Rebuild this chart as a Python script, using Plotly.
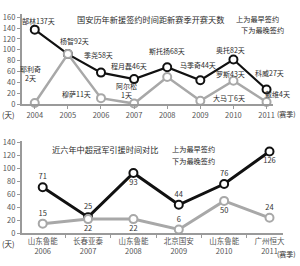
import plotly.graph_objects as go

# ---- top chart data ----
years_top = [2004, 2005, 2006, 2007, 2008, 2009, 2010, 2011]
earliest_top = [137, 92, 58, 46, 68, 44, 82, 27]
latest_top = [2, 92, 11, 1, 50, 6, 43, 4]
earliest_names = ["郜林137天", "杨智92天", "季尧58天", "程月磊46天", "斯托扬68天", "马季奇44天", "奥托82天", "科威27天"]
latest_names = ["耶利奇<br>2天", None, "穆萨11天", "阿尔松<br>1天", None, "大马丁6天", "罗斯43天", "戴维4天"]
title_top = "国安历年新援签约时间距新赛季开赛天数"

# ---- bottom chart data ----
teams = ["山东鲁能", "长春亚泰", "山东鲁能", "北京国安", "山东鲁能", "广州恒大"]
seasons = ["2006", "2007", "2008", "2009", "2010", "2011"]
earliest_bot = [71, 25, 93, 44, 76, 126]
latest_bot = [15, 22, 22, 6, 50, 24]
title_bot = "近六年中超冠军引援时间对比"
legend_lines = ["上为最早签约", "下为最晚签约"]

# ---- styles ----
BLACK = "#111111"
GRAY = "#a8a8a8"
AXIS = "#9a9a9a"
TICKC = "#555555"
TXT = "#2a2a2a"
FONT = "Noto Sans CJK SC"
W, H = 300, 266

# label offsets (pixels) for top chart annotations
early_off = [(4, 9), (7, 13), (-2, 18), (-5, 13), (0, 16), (-2, 15), (-3, 10), (3, 16)]
late_off = [(-4, 30), None, (-24, 4), (-8, 13), None, (29, 3), (-3, 7), (11, 8)]
bot_early_pos = ["top center", "top center", "bottom center", "top center", "top center", "bottom center"]
bot_late_pos = ["top center", "bottom center", "bottom center", "top center", "bottom center", "top center"]

def py(p):
    return 1 - p / H

fig = go.Figure()

# top traces
fig.add_trace(go.Scatter(x=years_top, y=earliest_top, mode="lines+markers",
                         line=dict(color=BLACK, width=2.2),
                         marker=dict(symbol="circle", size=8, color="white",
                                     line=dict(color=BLACK, width=2)),
                         xaxis="x", yaxis="y", showlegend=False, cliponaxis=False))
fig.add_trace(go.Scatter(x=years_top, y=latest_top, mode="lines+markers",
                         line=dict(color=GRAY, width=2.5),
                         marker=dict(symbol="circle", size=8, color="white",
                                     line=dict(color=GRAY, width=2)),
                         xaxis="x", yaxis="y", showlegend=False, cliponaxis=False))

# bottom traces
cats = [f"{t}<br>{s}" for t, s in zip(teams, seasons)]
fig.add_trace(go.Scatter(x=cats, y=earliest_bot, mode="lines+markers+text",
                         text=[str(v) for v in earliest_bot], textposition=bot_early_pos,
                         textfont=dict(size=7.5, color="#333"),
                         line=dict(color=BLACK, width=3),
                         marker=dict(symbol="circle", size=8, color="white",
                                     line=dict(color=BLACK, width=2)),
                         xaxis="x2", yaxis="y2", showlegend=False, cliponaxis=False))
fig.add_trace(go.Scatter(x=cats, y=latest_bot, mode="lines+markers+text",
                         text=[str(v) for v in latest_bot], textposition=bot_late_pos,
                         textfont=dict(size=7.5, color="#333"),
                         line=dict(color=GRAY, width=3),
                         marker=dict(symbol="circle", size=8, color="white",
                                     line=dict(color=GRAY, width=2)),
                         xaxis="x2", yaxis="y2", showlegend=False, cliponaxis=False))

annotations = []
for x, y, t, (dx, dy) in zip(years_top, earliest_top, earliest_names, early_off):
    annotations.append(dict(x=x, y=y, xref="x", yref="y", text=t, showarrow=False,
                            xshift=dx, yshift=dy, font=dict(size=7, color=TXT)))
for x, y, t, off in zip(years_top, latest_top, latest_names, late_off):
    if t is None:
        continue
    annotations.append(dict(x=x, y=y, xref="x", yref="y", text=t, showarrow=False,
                            xshift=off[0], yshift=off[1], font=dict(size=7, color=TXT)))

# titles and legends
annotations += [
    dict(x=75 / W, y=py(15), xref="paper", yref="paper", xanchor="left", yanchor="middle",
         text=title_top, showarrow=False, font=dict(size=8.2, color=TXT)),
    dict(x=236 / W, y=py(15), xref="paper", yref="paper", xanchor="left", yanchor="middle",
         text=legend_lines[0], showarrow=False, font=dict(size=7.2, color=TXT)),
    dict(x=241 / W, y=py(26), xref="paper", yref="paper", xanchor="left", yanchor="middle",
         text=legend_lines[1], showarrow=False, font=dict(size=7.2, color=TXT)),
    dict(x=50 / W, y=py(150), xref="paper", yref="paper", xanchor="left", yanchor="middle",
         text=title_bot, showarrow=False, font=dict(size=8.2, color=TXT)),
    dict(x=171 / W, y=py(150), xref="paper", yref="paper", xanchor="left", yanchor="middle",
         text=legend_lines[0], showarrow=False, font=dict(size=7.2, color=TXT)),
    dict(x=171 / W, y=py(162), xref="paper", yref="paper", xanchor="left", yanchor="middle",
         text=legend_lines[1], showarrow=False, font=dict(size=7.2, color=TXT)),
    dict(x=0, y=py(114), xref="paper", yref="paper", xanchor="left", yanchor="middle",
         text="(天)", showarrow=False, font=dict(size=7.5, color=TXT)),
    dict(x=1, y=py(113), xref="paper", yref="paper", xanchor="right", yanchor="middle",
         text="(赛季)", showarrow=False, font=dict(size=7, color=TXT)),
    dict(x=0, y=py(248), xref="paper", yref="paper", xanchor="left", yanchor="middle",
         text="(天)", showarrow=False, font=dict(size=7.5, color=TXT)),
    dict(x=1, y=py(259), xref="paper", yref="paper", xanchor="right", yanchor="middle",
         text="(赛季)", showarrow=False, font=dict(size=7, color=TXT)),
]

axis_common = dict(showgrid=False, zeroline=False, showline=True, linecolor=AXIS, linewidth=2,
                   ticks="outside", ticklen=3, tickcolor=AXIS, tickwidth=1,
                   tickfont=dict(size=7.5, color=TICKC, family=FONT))

fig.update_layout(
    width=W, height=H, margin=dict(l=0, r=0, t=0, b=0),
    paper_bgcolor="white", plot_bgcolor="white",
    font=dict(family=FONT),
    xaxis=dict(domain=[22 / W, 275 / W], range=[2003.61, 2011.2], anchor="y",
               tickvals=years_top, ticktext=[str(y) for y in years_top], **axis_common),
    yaxis=dict(domain=[py(103), py(9.8)], range=[0, 165], anchor="x",
               tickvals=list(range(0, 161, 20)), **axis_common),
    xaxis2=dict(domain=[22 / W, 285 / W], range=[-0.46, 5.3], anchor="y2", type="category",
                tickson="boundaries", **axis_common),
    yaxis2=dict(domain=[py(237.3), py(141.5)], range=[0, 142], anchor="x2",
                tickvals=list(range(0, 141, 20)), **axis_common),
    annotations=annotations,
)

fig.write_html("out.html")
